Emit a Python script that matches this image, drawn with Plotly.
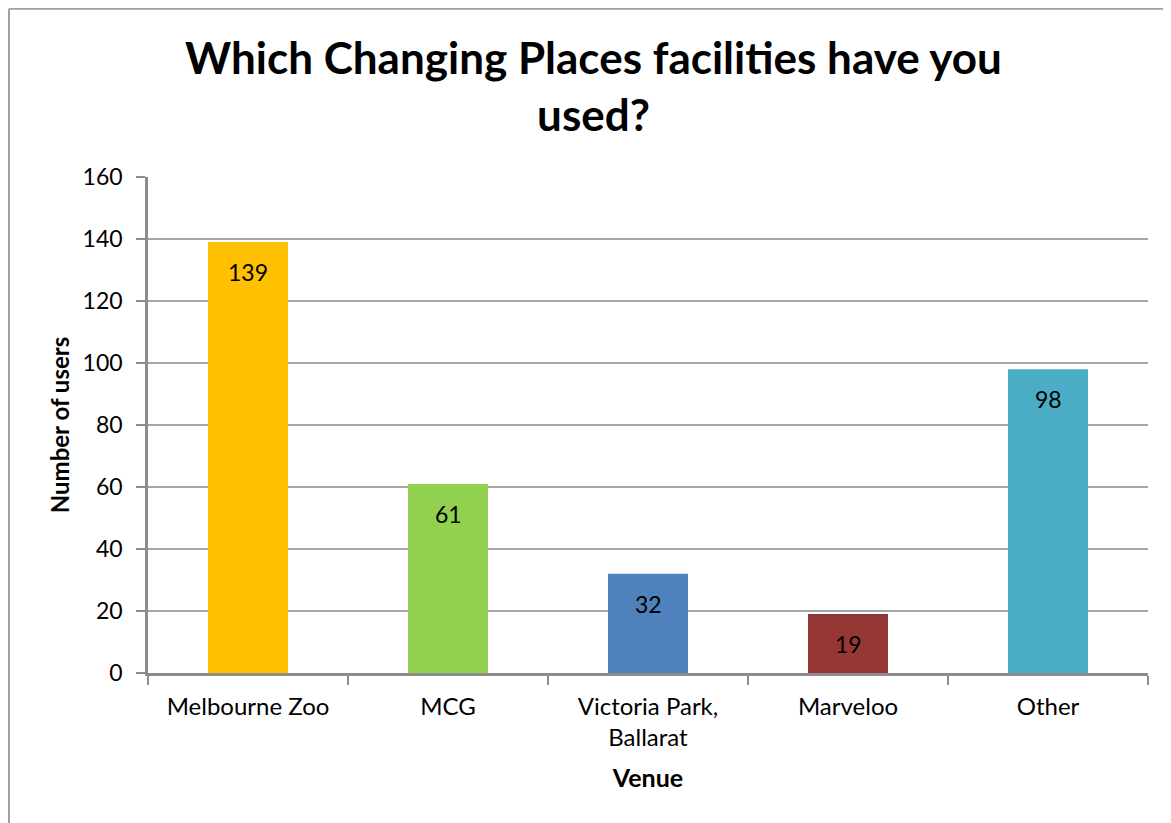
import plotly.graph_objects as go

categories = ["Melbourne Zoo", "MCG", "Victoria Park,<br>Ballarat", "Marveloo", "Other"]
values = [139, 61, 32, 19, 98]
colors = ["#FFC000", "#92D050", "#4F81BD", "#953735", "#4BACC6"]
y_ticks = [0, 20, 40, 60, 80, 100, 120, 140, 160]

FONT = "Lato"

fig = go.Figure(go.Bar(
    x=categories, y=values,
    marker=dict(color=colors, line=dict(width=0)),
    hoverinfo="x+y",
))

# data labels, inside end of each bar
for c, v in zip(categories, values):
    fig.add_annotation(x=c, y=v, text=str(v), showarrow=False,
                       yanchor="middle", yshift=-30,
                       font=dict(family=FONT, size=23, color="black"))

fig.update_layout(
    width=1171, height=823,
    margin=dict(l=140, r=31, t=169, b=158),
    paper_bgcolor="white", plot_bgcolor="white",
    bargap=0.6,
    showlegend=False,
    title=dict(text="<b>Which Changing Places facilities have you<br>used?</b>",
               x=0.5, xanchor="center", y=0.92, yanchor="top",
               font=dict(family=FONT, size=44, color="black")),
    font=dict(family=FONT, size=23, color="black"),
)

fig.update_yaxes(
    range=[0, 160], tickvals=y_ticks,
    showgrid=True, gridcolor="#A6A6A6", gridwidth=1.5,
    showline=True, linecolor="#8C8C8C", linewidth=2.5,
    ticks="outside", ticklen=9, tickcolor="#8C8C8C", tickwidth=1.5,
    tickfont=dict(family=FONT, size=23), ticklabelstandoff=9,
    zeroline=False,
    title=dict(text="<b>Number of users</b>", font=dict(family=FONT, size=24), standoff=7),
)
fig.update_xaxes(
    showline=True, linecolor="#8C8C8C", linewidth=2.5,
    ticks="outside", tickson="boundaries", ticklen=9, tickcolor="#8C8C8C", tickwidth=1.5,
    tickfont=dict(family=FONT, size=24), ticklabelstandoff=10,
    title=dict(text="<b>Venue</b>", font=dict(family=FONT, size=25), standoff=20),
)

# chart border (Excel chart area outline)
fig.add_shape(type="line", xref="paper", yref="paper", x0=-0.139, x1=-0.139, y0=-0.4, y1=1.339,
              line=dict(color="#A0A0A0", width=2))
fig.add_shape(type="line", xref="paper", yref="paper", x0=-0.139, x1=1.05, y0=1.339, y1=1.339,
              line=dict(color="#A0A0A0", width=2))

fig.write_html("out.html")
